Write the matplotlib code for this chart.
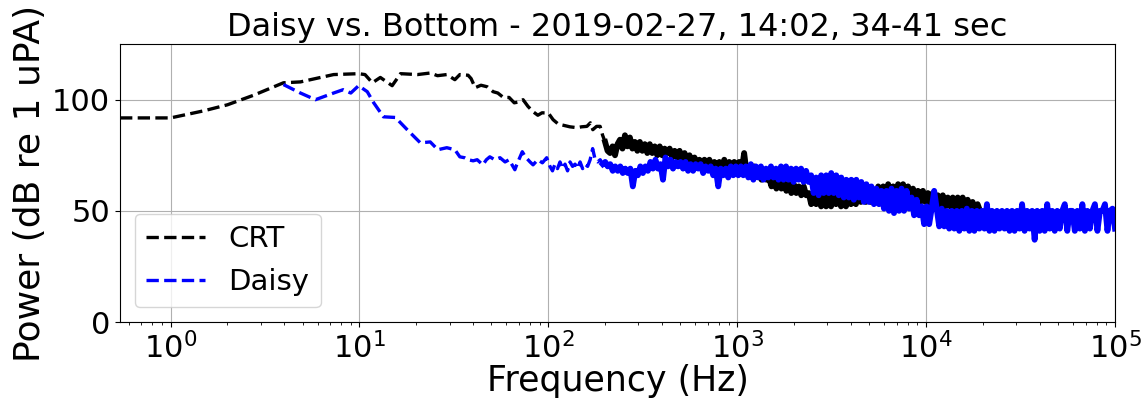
import matplotlib
matplotlib.use('Agg')
import matplotlib.pyplot as plt
import numpy as np

# CRT hydrophone, coarse part of the spectrum (Hz, dB)
crt_freq_lo = [0.54, 1.0, 1.5, 2.0, 2.75, 3.96, 4.87, 7.3, 9.9, 10.7,
               11.7, 12.9, 14.9, 16.5, 20.3, 23.7, 25.9, 29.0, 32.0, 34.0,
               37.6, 39.0, 41.0, 44.0, 47.5, 51.0, 54.0, 57.8, 62.0, 66.0,
               70.0, 73.5, 78.0, 83.0, 88.0, 92.6, 100.0, 106.0, 113.0, 120.0,
               130.0, 142.0, 150.0, 160.0, 167.0, 172.0, 180.0]
crt_db_lo = [91.8, 91.8, 95.0, 97.7, 102.0, 107.6, 108.0, 111.3, 111.7, 111.3,
             107.6, 110.0, 106.3, 111.7, 111.3, 112.0, 110.8, 111.3, 109.0, 111.3,
             111.0, 109.5, 105.4, 106.5, 105.8, 103.6, 103.0, 101.0, 101.0, 98.6,
             99.0, 100.0, 97.0, 94.6, 93.0, 94.1, 94.0, 91.0, 89.0, 88.5,
             87.8, 87.4, 87.8, 88.0, 89.6, 86.5, 88.0]

# CRT, dense bins from 188 Hz to 19.3 kHz (log spaced)
crt_db_hi = [88, 84, 81, 77, 76, 79, 75, 80, 82, 78, 84, 79, 83, 78, 81, 77,
             81, 77, 80, 76, 80, 76, 79, 75, 79, 75, 78, 76, 78, 74, 77, 74,
             77, 73, 76, 73, 75, 71, 74, 71, 73, 70, 73, 70, 73, 69, 72, 70,
             72, 69, 73, 68, 72, 68, 72, 69, 72, 68, 76, 67, 70, 66, 70, 66,
             68, 64, 67, 64, 65, 61, 65, 60, 64, 60, 63, 59, 62, 58, 62, 58,
             61, 57, 61, 57, 58, 53, 57, 53, 57, 52, 56, 52, 58, 52, 57, 53,
             57, 52, 57, 52, 57, 53, 57, 53, 58, 54, 58, 54, 59, 54, 59, 55,
             61, 56, 61, 57, 62, 57, 61, 57, 62, 57, 62, 57, 61, 56, 60, 56,
             59, 54, 59, 54, 58, 53, 58, 53, 57, 52, 57, 52, 56, 52, 56, 51,
             56, 51, 56, 51, 55, 51, 54, 50, 53, 50]

# Daisy, coarse part of the spectrum (Hz, dB)
daisy_freq_lo = [3.96, 4.87, 5.85, 7.3, 8.2, 9.0, 9.9, 11.0, 11.9, 13.4,
                 15.5, 17.9, 21.0, 23.7, 26.0, 29.0, 32.0, 34.0, 36.0, 37.6,
                 40.0, 42.0, 45.0, 47.0, 49.0, 52.0, 55.5, 59.0, 62.0, 66.5,
                 68.0, 72.8, 75.5, 80.0, 83.0, 88.0, 93.0, 98.0]
daisy_db_lo = [106.8, 103.0, 100.0, 103.0, 104.5, 103.0, 106.3, 103.6, 98.6, 92.3,
               92.0, 86.5, 80.6, 81.0, 77.5, 78.4, 77.5, 74.3, 73.9, 73.0,
               72.5, 73.0, 70.7, 73.0, 74.3, 73.0, 73.9, 72.0, 73.0, 68.5,
               70.7, 76.6, 74.3, 72.0, 70.7, 73.0, 71.6, 73.9]

# Daisy, dense bins from 102 Hz to 100 kHz (log spaced)
daisy_db_hi = [70, 68, 71, 69, 72, 69, 71, 68, 72, 70, 71, 69, 72, 69, 71, 70,
               73, 78, 73, 72, 73, 71, 72, 70, 71, 68, 70, 68, 70, 67, 69, 67,
               69, 61, 68, 66, 70, 67, 70, 68, 72, 69, 73, 69, 71, 64, 74, 70,
               73, 69, 72, 70, 72, 69, 72, 68, 71, 68, 71, 69, 71, 67, 70, 68,
               70, 66, 69, 61, 69, 66, 69, 65, 70, 66, 70, 66, 70, 66, 70, 65,
               71, 64, 70, 65, 70, 64, 69, 65, 70, 65, 69, 64, 70, 64, 70, 64,
               69, 63, 69, 64, 69, 63, 68, 63, 66, 58, 65, 57, 66, 58, 66, 58,
               67, 58, 66, 57, 65, 56, 64, 56, 64, 55, 64, 56, 63, 54, 62, 54,
               61, 53, 60, 53, 59, 51, 59, 50, 60, 49, 59, 50, 60, 50, 59, 51,
               56, 48, 55, 48, 52, 44, 52, 44, 51, 59, 51, 43, 51, 43, 50, 42,
               50, 42, 50, 41, 50, 42, 51, 41, 50, 41, 50, 42, 50, 42, 53, 41,
               50, 41, 50, 42, 50, 42, 50, 41, 50, 41, 50, 42, 53, 41, 50, 42,
               50, 37, 50, 41, 50, 41, 53, 42, 50, 41, 50, 42, 50, 53, 41, 50,
               50, 41, 50, 42, 53, 41, 50, 42, 50, 53, 41, 50, 50, 53, 41, 50,
               51, 42]

# above this the bins are so close that the dashed trace fills in solid
DENSE_FROM = 200.0


def plot_spectrum(ax, freq, db, color, label):
    sparse = freq < DENSE_FROM
    ax.plot(freq[sparse], db[sparse], '--', color=color, lw=2.4, label=label)
    start = max(sparse.sum() - 1, 0)
    ax.plot(freq[start:], db[start:], '-', color=color, lw=4.2)


def main():
    crt_f = np.concatenate([crt_freq_lo, np.geomspace(188, 19300, len(crt_db_hi))])
    crt_db = np.concatenate([crt_db_lo, crt_db_hi])
    daisy_f = np.concatenate([daisy_freq_lo, np.geomspace(102, 1e5, len(daisy_db_hi))])
    daisy_db = np.concatenate([daisy_db_lo, daisy_db_hi])

    fig = plt.figure(figsize=(11.43, 4.01), dpi=100)
    ax = fig.add_axes([0.105, 0.197, 0.8705, 0.693])
    plot_spectrum(ax, crt_f, crt_db, 'k', 'CRT')
    plot_spectrum(ax, daisy_f, daisy_db, 'b', 'Daisy')

    ax.set_xscale('log')
    ax.set_xlim(0.54, 1e5)
    ax.set_ylim(0, 125)
    ax.set_yticks([0, 50, 100])
    ax.grid(True)
    ax.tick_params(labelsize=22)
    ax.set_xlabel('Frequency (Hz)', fontsize=25, labelpad=0)
    ax.set_ylabel('Power (dB re 1 uPA)', fontsize=26)
    ax.set_title('Daisy vs. Bottom - 2019-02-27, 14:02, 34-41 sec', fontsize=23)
    ax.legend(loc='lower left', fontsize=21)

    fig.savefig('out.png', dpi=100)


if __name__ == '__main__':
    main()
